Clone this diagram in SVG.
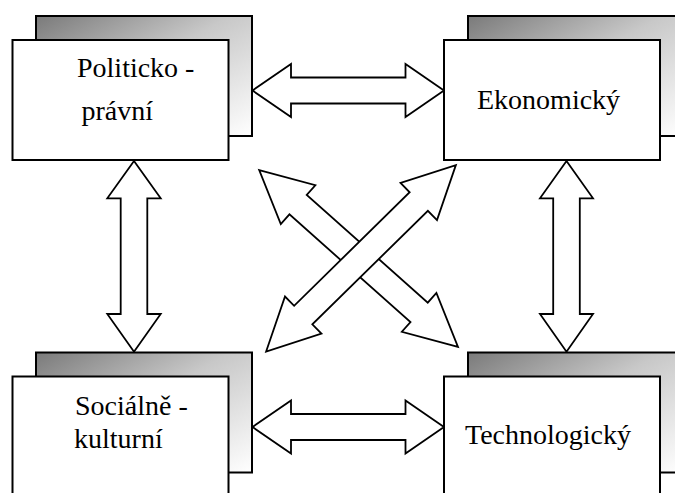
<svg xmlns="http://www.w3.org/2000/svg" width="675" height="493" viewBox="0 0 675 493">
<defs>
<linearGradient id="sh" x1="0" y1="0" x2="1" y2="1">
<stop offset="0" stop-color="#7a7a7a"/>
<stop offset="0.45" stop-color="#c8c8c8"/>
<stop offset="1" stop-color="#ffffff"/>
</linearGradient>
<path id="dbl" d="M -133,0 L -81,-26 L -81,-13 L 81,-13 L 81,-26 L 133,0 L 81,26 L 81,13 L -81,13 L -81,26 Z"/>
</defs>
<style>
.shadow{fill:url(#sh);stroke:#000;stroke-width:2}
.front{fill:#fff;stroke:#000;stroke-width:2}
text{font-family:"Liberation Serif","Times New Roman",Tinos,"DejaVu Serif","Noto Serif",serif;font-size:28px;fill:#000}
.arr{fill:#fff;stroke:#000;stroke-width:1.8;stroke-linejoin:miter}
</style>
<rect width="675" height="493" fill="#fff"/>
<g id="connectors">
<path class="arr" d="M252.5,90.5 L291,64 L291,77.5 L405.5,77.5 L405.5,64 L444,90.5 L405.5,117 L405.5,103.5 L291,103.5 L291,117 Z"/>
<path class="arr" d="M252.5,427 L291,400.5 L291,414 L405.5,414 L405.5,400.5 L444,427 L405.5,453.5 L405.5,440 L291,440 L291,453.5 Z"/>
<path class="arr" d="M134,161 L160.7,198.3 L147.3,198.3 L147.3,314 L160.7,314 L134,351.7 L107.3,314 L120.7,314 L120.7,198.3 L107.3,198.3 Z"/>
<path class="arr" d="M566.5,161 L593,198.3 L579.8,198.3 L579.8,314 L593,314 L566.5,351.7 L540,314 L553.2,314 L553.2,198.3 L540,198.3 Z"/>
<use href="#dbl" class="arr" transform="translate(358.6,258.5) rotate(41.65)"/>
<use href="#dbl" class="arr" transform="translate(361,258.3) rotate(-44.5)"/>
</g>
<g id="node-politicko">
<rect class="shadow" x="36" y="16" width="216" height="120"/>
<rect class="front" x="12.5" y="40" width="216" height="120"/>
<text x="77" y="77">Politicko -</text>
<text x="81.5" y="120">právní</text>
</g>
<g id="node-ekonomicky">
<rect class="shadow" x="468" y="16" width="216" height="120"/>
<rect class="front" x="444" y="40" width="216" height="120"/>
<text x="477" y="109">Ekonomický</text>
</g>
<g id="node-socialne">
<rect class="shadow" x="36" y="352.5" width="216" height="120"/>
<rect class="front" x="12.5" y="376.5" width="216" height="125"/>
<text x="75" y="415">Sociálně -</text>
<text x="74" y="448">kulturní</text>
</g>
<g id="node-technologicky">
<rect class="shadow" x="468" y="352.5" width="216" height="120"/>
<rect class="front" x="444" y="376.5" width="216" height="125"/>
<text x="465" y="444">Technologický</text>
</g>
</svg>
